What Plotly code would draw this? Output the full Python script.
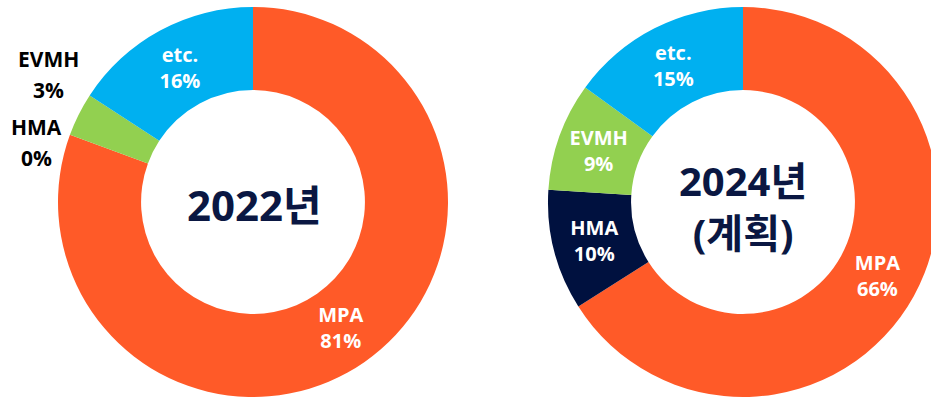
import plotly.graph_objects as go

categories = ["MPA", "HMA", "EVMH", "etc."]
values_2022 = [80.6, 0.0, 3.6, 15.8]
labels_2022 = ["81%", "0%", "3%", "16%"]
values_2024 = [66, 10, 9, 15]
labels_2024 = ["66%", "10%", "9%", "15%"]
colors = ["#FF5A28", "#00113F", "#92D050", "#00B0F0"]

W, H = 940, 400
FONT = "Open Sans, Noto Sans CJK KR"
NAVY_TXT = "#0A1742"

def px_dom(x0, x1, y0, y1):
    return dict(x=[x0 / W, x1 / W], y=[1 - y1 / H, 1 - y0 / H])

fig = go.Figure()

text_2022 = [f"{c}<br>{p}" if i in (0, 3) else "" for i, (c, p) in enumerate(zip(categories, labels_2022))]
fig.add_trace(go.Pie(
    labels=categories, values=values_2022, text=text_2022, textinfo="text",
    sort=False, direction="clockwise", rotation=0, hole=0.574,
    marker=dict(colors=colors, line=dict(width=0)),
    textposition="inside", insidetextorientation="horizontal",
    textfont=dict(family=FONT, size=20, color="white", weight="bold"),
    domain=px_dom(58, 448, 7, 397), showlegend=False, hoverinfo="label+percent",
))

text_2024 = [f"{c}<br>{p}" for c, p in zip(categories, labels_2024)]
fig.add_trace(go.Pie(
    labels=categories, values=values_2024, text=text_2024, textinfo="text",
    sort=False, direction="clockwise", rotation=0, hole=0.574,
    marker=dict(colors=colors, line=dict(width=0)),
    textposition="inside", insidetextorientation="horizontal",
    textfont=dict(family=FONT, size=20, color="white", weight="bold"),
    domain=px_dom(548, 938, 7, 397), showlegend=False, hoverinfo="label+percent",
))

ann = []
ann.append(dict(x=255 / W, y=1 - 204 / H, text="2022년",
                font=dict(family=FONT, size=42, color=NAVY_TXT, weight="bold")))
ann.append(dict(x=743 / W, y=1 - 206 / H, text="2024년<br>(계획)",
                font=dict(family=FONT, size=40, color=NAVY_TXT, weight="bold")))

out_font = dict(family=FONT, size=21, color="black", weight="bold")
for idx, (cx, cy_name, cy_pct) in zip((2, 1), ((48, 59, 90), (36, 127, 158))):
    ann.append(dict(x=cx / W, y=1 - cy_name / H, text=categories[idx], font=out_font))
    ann.append(dict(x=cx / W, y=1 - cy_pct / H, text=labels_2022[idx], font=out_font))
for a in ann:
    a.update(xref="paper", yref="paper", xanchor="center", yanchor="middle", showarrow=False)

fig.update_layout(width=W, height=H, margin=dict(l=0, r=0, t=0, b=0),
                  paper_bgcolor="white", plot_bgcolor="white", annotations=ann)

fig.write_html("out.html", config={"displayModeBar": False},
               post_script="document.body.style.margin='0px';"
                           "document.documentElement.style.overflow='hidden';"
                           "document.body.style.overflow='hidden';")
